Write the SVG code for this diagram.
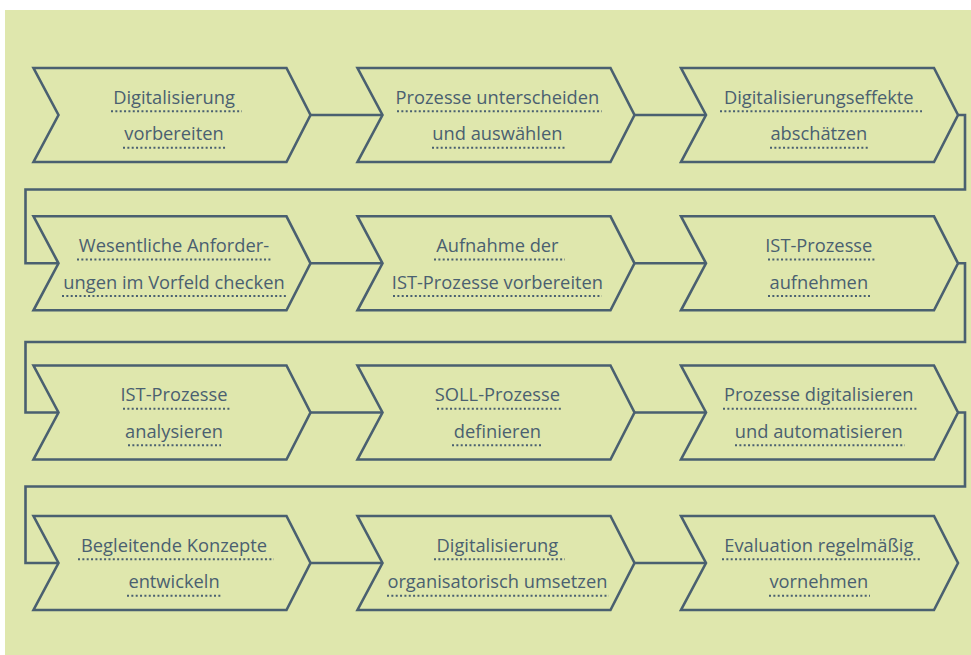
<svg xmlns="http://www.w3.org/2000/svg" width="971" height="655" viewBox="0 0 971 655">
<style>
.bg{fill:#dfe7ad}
.chev{fill:none;stroke:#4a6070;stroke-width:2.6;stroke-linejoin:miter}
.con{fill:none;stroke:#4a6070;stroke-width:2.6}
.t{font-family:"Open Sans","Noto Sans",sans-serif;font-size:18.3px;fill:#4a6070;text-anchor:middle}
.d{stroke:#4a6070;stroke-width:2;stroke-dasharray:2 2.35;fill:none}
</style>
<defs>
<path id="chev" d="M0,-47 L253,-47 L277,0 L253,47 L0,47 L25,0 Z"/>
</defs>
<rect class="bg" x="5" y="10" width="966" height="645"/>
<g id="connectors">
<path class="con" d="M310.5,115 H382.5 M634.5,115 H706"/>
<path class="con" d="M310.5,263.3 H382.5 M634.5,263.3 H706"/>
<path class="con" d="M310.5,412.5 H382.5 M634.5,412.5 H706"/>
<path class="con" d="M310.5,563 H382.5 M634.5,563 H706"/>
<path class="con" d="M958,115 H965 V189.5 H25.5 V263.3 H58.5"/>
<path class="con" d="M958,263.3 H965 V342 H25.5 V412.5 H58.5"/>
<path class="con" d="M958,412.5 H965 V486.5 H25.5 V563 H58.5"/>
</g>
<g id="n1" transform="translate(33.5,115)">
<use href="#chev" class="chev"/>
<text class="t" x="140.5" y="-11.5">Digitalisierung</text>
<text class="t" x="140.5" y="25.3">vorbereiten</text>
<path class="d" d="M77.5,-3.8 H208.5 M89.5,32.8 H192.5"/>
</g>
<g id="n2" transform="translate(357.5,115)">
<use href="#chev" class="chev"/>
<text class="t" x="139.9" y="-11.5">Prozesse unterscheiden</text>
<text class="t" x="139.9" y="25.3">und auswählen</text>
<path class="d" d="M39.5,-3.8 H244.5 M74.5,32.8 H207.5"/>
</g>
<g id="n3" transform="translate(681,115)">
<use href="#chev" class="chev"/>
<text class="t" x="137.8" y="-11.5">Digitalisierungseffekte</text>
<text class="t" x="137.8" y="25.3">abschätzen</text>
<path class="d" d="M39,-3.8 H241 M89,32.8 H188"/>
</g>
<g id="n4" transform="translate(33.5,263.3)">
<use href="#chev" class="chev"/>
<text class="t" x="140.5" y="-11.5">Wesentliche Anforder-</text>
<text class="t" x="140.5" y="25.3">ungen im Vorfeld checken</text>
<path class="d" d="M43.5,-3.8 H238.5 M28.5,32.8 H254.5"/>
</g>
<g id="n5" transform="translate(357.5,263.3)">
<use href="#chev" class="chev"/>
<text class="t" x="139.9" y="-11.5">Aufnahme der</text>
<text class="t" x="139.9" y="25.3">IST-Prozesse vorbereiten</text>
<path class="d" d="M76.5,-3.8 H207.5 M35.5,32.8 H244.5"/>
</g>
<g id="n6" transform="translate(681,263.3)">
<use href="#chev" class="chev"/>
<text class="t" x="137.8" y="-11.5">IST-Prozesse</text>
<text class="t" x="137.8" y="25.3">aufnehmen</text>
<path class="d" d="M87,-3.8 H194 M87,32.8 H189"/>
</g>
<g id="n7" transform="translate(33.5,412.5)">
<use href="#chev" class="chev"/>
<text class="t" x="140.5" y="-11.5">IST-Prozesse</text>
<text class="t" x="140.5" y="25.3">analysieren</text>
<path class="d" d="M89.5,-3.8 H196.5 M94.5,32.8 H187.5"/>
</g>
<g id="n8" transform="translate(357.5,412.5)">
<use href="#chev" class="chev"/>
<text class="t" x="139.9" y="-11.5">SOLL-Prozesse</text>
<text class="t" x="139.9" y="25.3">definieren</text>
<path class="d" d="M79.5,-3.8 H205.5 M94.5,32.8 H185.5"/>
</g>
<g id="n9" transform="translate(681,412.5)">
<use href="#chev" class="chev"/>
<text class="t" x="137.8" y="-11.5">Prozesse digitalisieren</text>
<text class="t" x="137.8" y="25.3">und automatisieren</text>
<path class="d" d="M42,-3.8 H237 M54,32.8 H224"/>
</g>
<g id="n10" transform="translate(33.5,563)">
<use href="#chev" class="chev"/>
<text class="t" x="140.5" y="-11.5">Begleitende Konzepte</text>
<text class="t" x="140.5" y="25.3">entwickeln</text>
<path class="d" d="M44.5,-3.8 H240.5 M93.5,32.8 H188.5"/>
</g>
<g id="n11" transform="translate(357.5,563)">
<use href="#chev" class="chev"/>
<text class="t" x="139.9" y="-11.5">Digitalisierung</text>
<text class="t" x="139.9" y="25.3">organisatorisch umsetzen</text>
<path class="d" d="M76.5,-3.8 H207.5 M29.5,32.8 H251.5"/>
</g>
<g id="n12" transform="translate(681,563)">
<use href="#chev" class="chev"/>
<text class="t" x="137.8" y="-11.5">Evaluation regelmäßig</text>
<text class="t" x="137.8" y="25.3">vornehmen</text>
<path class="d" d="M41,-3.8 H240 M88,32.8 H189"/>
</g>
</svg>
